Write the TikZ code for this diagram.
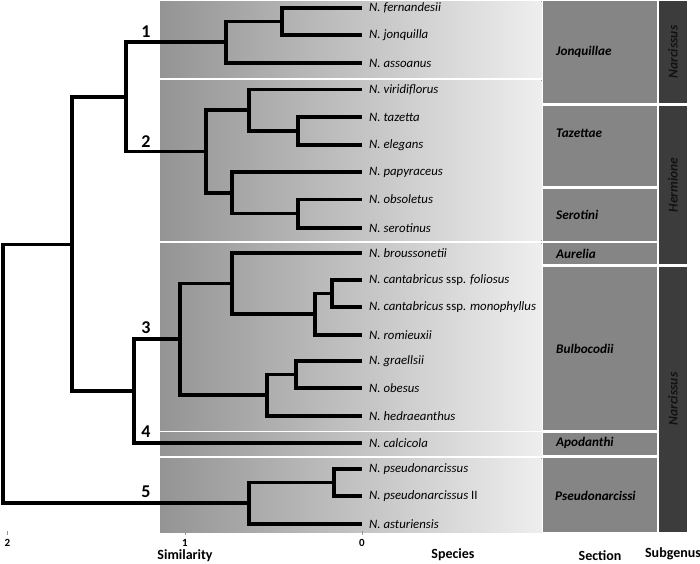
\documentclass[tikz,border=0pt]{standalone}
\usepackage{fontspec}
\setmainfont{Carlito}
\definecolor{bandL}{RGB}{148,148,148}
\definecolor{bandR}{RGB}{238,238,238}
\definecolor{secgray}{RGB}{133,133,133}
\definecolor{subgray}{RGB}{60,60,60}
\definecolor{subtext}{RGB}{18,18,18}
\definecolor{tickgray}{RGB}{150,150,150}
\begin{document}
\begin{tikzpicture}[x=1pt,y=-1pt,
  tree/.style={line width=3.1pt, black, line join=miter},
  band/.style={left color=bandL, right color=bandR, draw=none},
  secbox/.style={fill=secgray, draw=none},
  subbox/.style={fill=subgray, draw=none},
  sp/.style={anchor=west, inner sep=0pt, font=\fontsize{12.8}{14}\selectfont\itshape},
  sec/.style={anchor=west, inner sep=0pt, font=\fontsize{13.2}{15}\selectfont\bfseries\itshape},
  sub/.style={rotate=90, inner sep=0pt, text=subtext, font=\fontsize{13.5}{15}\selectfont\bfseries\itshape},
  num/.style={inner sep=0pt, font=\fontsize{18}{20}\selectfont\bfseries},
  axnum/.style={inner sep=0pt, font=\fontsize{11}{12}\selectfont\bfseries},
  axtitle/.style={inner sep=0pt, font=\fontsize{14}{16}\selectfont\bfseries},
  tick/.style={tickgray, line width=0.7pt}]
\useasboundingbox (0,0) rectangle (700,563);
% bands
\fill[band] (160,1) rectangle (541.5,77);
\fill[band] (160,80) rectangle (541.5,240.5);
\fill[band] (160,243) rectangle (541.5,430);
\fill[band] (160,432.5) rectangle (541.5,455);
\fill[band] (160,458) rectangle (541.5,532);
% section boxes
\fill[secbox] (543,1) rectangle (657,103);
\fill[secbox] (543,106) rectangle (657,186);
\fill[secbox] (543,188.5) rectangle (657,240.5);
\fill[secbox] (543,243) rectangle (657,264);
\fill[secbox] (543,266.5) rectangle (657,429.5);
\fill[secbox] (543,432.5) rectangle (657,455);
\fill[secbox] (543,458) rectangle (657,532);
% subgenus boxes
\fill[subbox] (659,1) rectangle (687,103);
\fill[subbox] (659,106) rectangle (687,264);
\fill[subbox] (659,266.5) rectangle (687,532);
% leaves
\coordinate (L1) at (362,8);
\coordinate (L2) at (362,35);
\coordinate (L3) at (362,63);
\coordinate (L4) at (362,89.5);
\coordinate (L5) at (362,117);
\coordinate (L6) at (362,145);
\coordinate (L7) at (362,172);
\coordinate (L8) at (362,199.5);
\coordinate (L9) at (362,228);
\coordinate (L10) at (362,253);
\coordinate (L11) at (362,280);
\coordinate (L12) at (362,307);
\coordinate (L13) at (362,335);
\coordinate (L14) at (362,361);
\coordinate (L15) at (362,388);
\coordinate (L16) at (362,416);
\coordinate (L17) at (362,443);
\coordinate (L18) at (362,469);
\coordinate (L19) at (362,496);
\coordinate (L20) at (362,524);
% internal nodes
\coordinate (a) at (282,21.5);
\coordinate (b) at (226,42);
\coordinate (d) at (298,131);
\coordinate (e) at (249,110);
\coordinate (f) at (298,213.5);
\coordinate (g) at (232,193);
\coordinate (h) at (206,151.5);
\coordinate (i) at (126,97);
\coordinate (j) at (332,293.5);
\coordinate (k) at (315,314);
\coordinate (l) at (232,283.5);
\coordinate (m) at (296,374.5);
\coordinate (n) at (267,395);
\coordinate (o) at (180,339);
\coordinate (p) at (134,391);
\coordinate (q) at (72,244.5);
\coordinate (r) at (334,482.5);
\coordinate (s) at (249,503);
\coordinate (root) at (3,373.5);
% edges
\draw[tree] (a) |- (L1);
\draw[tree] (a) |- (L2);
\draw[tree] (b) |- (a);
\draw[tree] (b) |- (L3);
\draw[tree] (d) |- (L5);
\draw[tree] (d) |- (L6);
\draw[tree] (e) |- (L4);
\draw[tree] (e) |- (d);
\draw[tree] (f) |- (L8);
\draw[tree] (f) |- (L9);
\draw[tree] (g) |- (L7);
\draw[tree] (g) |- (f);
\draw[tree] (h) |- (e);
\draw[tree] (h) |- (g);
\draw[tree] (i) |- (b);
\draw[tree] (i) |- (h);
\draw[tree] (j) |- (L11);
\draw[tree] (j) |- (L12);
\draw[tree] (k) |- (j);
\draw[tree] (k) |- (L13);
\draw[tree] (l) |- (L10);
\draw[tree] (l) |- (k);
\draw[tree] (m) |- (L14);
\draw[tree] (m) |- (L15);
\draw[tree] (n) |- (m);
\draw[tree] (n) |- (L16);
\draw[tree] (o) |- (l);
\draw[tree] (o) |- (n);
\draw[tree] (p) |- (o);
\draw[tree] (p) |- (L17);
\draw[tree] (q) |- (i);
\draw[tree] (q) |- (p);
\draw[tree] (r) |- (L18);
\draw[tree] (r) |- (L19);
\draw[tree] (s) |- (r);
\draw[tree] (s) |- (L20);
\draw[tree] (root) |- (q);
\draw[tree] (root) |- (s);
% clade numbers
\node[num] (c1) at (146,31.5) {1};
\node[num] (c2) at (146,142) {2};
\node[num] (c3) at (146,327.5) {3};
\node[num] (c4) at (146,432) {4};
\node[num] (c5) at (146,492) {5};
% species labels
\node[sp] (t1) at ([xshift=7pt]L1) {N. fernandesii};
\node[sp] (t2) at ([xshift=7pt]L2) {N. jonquilla};
\node[sp] (t3) at ([xshift=7pt]L3) {N. assoanus};
\node[sp] (t4) at ([xshift=7pt]L4) {N. viridiflorus};
\node[sp] (t5) at ([xshift=7pt]L5) {N. tazetta};
\node[sp] (t6) at ([xshift=7pt]L6) {N. elegans};
\node[sp] (t7) at ([xshift=7pt]L7) {N. papyraceus};
\node[sp] (t8) at ([xshift=7pt]L8) {N. obsoletus};
\node[sp] (t9) at ([xshift=7pt]L9) {N. serotinus};
\node[sp] (t10) at ([xshift=7pt]L10) {N. broussonetii};
\node[sp] (t11) at ([xshift=7pt]L11) {N. cantabricus {\upshape ssp.} foliosus};
\node[sp] (t12) at ([xshift=7pt]L12) {N. cantabricus {\upshape ssp.} monophyllus};
\node[sp] (t13) at ([xshift=7pt]L13) {N. romieuxii};
\node[sp] (t14) at ([xshift=7pt]L14) {N. graellsii};
\node[sp] (t15) at ([xshift=7pt]L15) {N. obesus};
\node[sp] (t16) at ([xshift=7pt]L16) {N. hedraeanthus};
\node[sp] (t17) at ([xshift=7pt]L17) {N. calcicola};
\node[sp] (t18) at ([xshift=7pt]L18) {N. pseudonarcissus};
\node[sp] (t19) at ([xshift=7pt]L19) {N. pseudonarcissus {\upshape II}};
\node[sp] (t20) at ([xshift=7pt]L20) {N. asturiensis};
% section labels
\node[sec] (s1) at (556,52) {Jonquillae};
\node[sec] (s2) at (556,133) {Tazettae};
\node[sec] (s3) at (556,215) {Serotini};
\node[sec] (s4) at (556,254) {Aurelia};
\node[sec] (s5) at (556,349) {Bulbocodii};
\node[sec] (s6) at (556,443) {Apodanthi};
\node[sec] (s7) at (555,496) {Pseudonarcissi};
% subgenus labels
\node[sub] (g1) at (673,52) {Narcissus};
\node[sub] (g2) at (673,185) {Hermione};
\node[sub] (g3) at (673,399) {Narcissus};
% axis
\coordinate (x2) at (7.5,531);
\coordinate (x1) at (185,531);
\coordinate (x0) at (362,531);
\draw[tick] (x2) -- ++(0,4);
\draw[tick] (x1) -- ++(0,4);
\draw[tick] (x0) -- ++(0,4);
\node[axnum] (a2) at (7.5,543) {2};
\node[axnum] (a1) at (185,543) {1};
\node[axnum] (a0) at (362,543) {0};
\node[axtitle] (ttl1) at (185,556) {Similarity};
\node[axtitle] (ttl2) at (453,555) {Species};
\node[axtitle] (ttl3) at (600,556) {Section};
\node[axtitle] (ttl4) at (673,554) {Subgenus};
\end{tikzpicture}
\end{document}
